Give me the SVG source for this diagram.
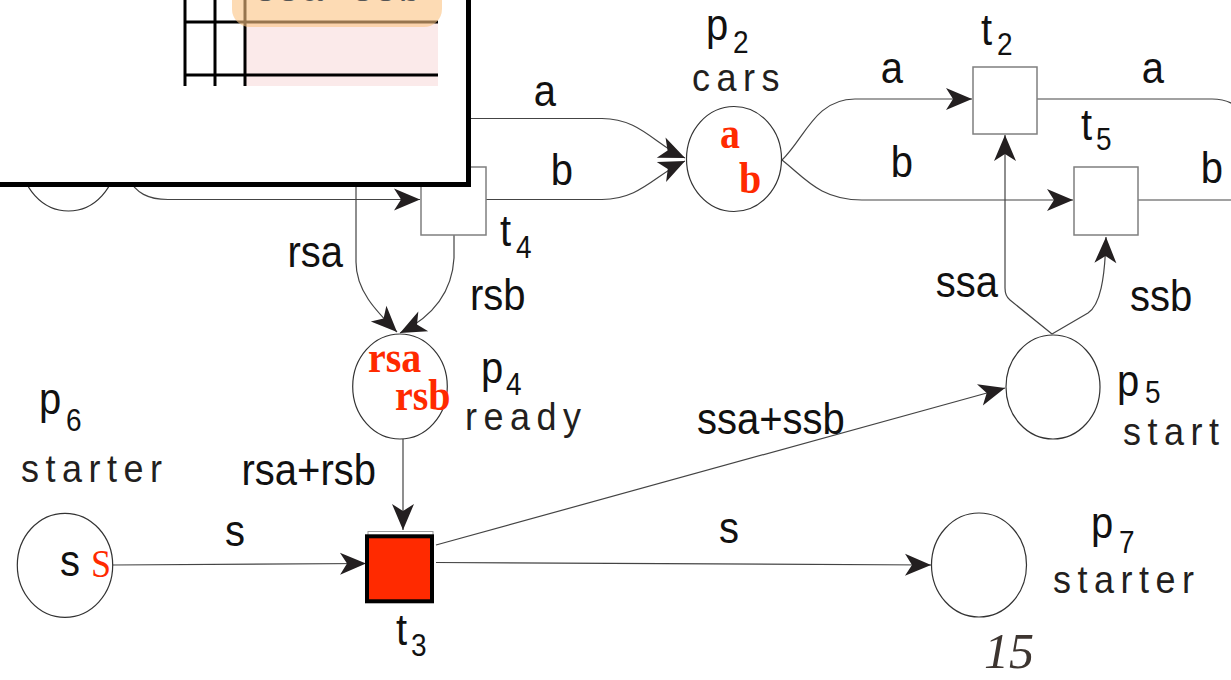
<svg xmlns="http://www.w3.org/2000/svg" width="1231" height="680" viewBox="0 0 1231 680">
<defs>
<style>
.place{fill:#fff;stroke:#333;stroke-width:1.2}
.trans{fill:#fff;stroke:#7f7f7f;stroke-width:1.5}
.arc{fill:none;stroke:#444;stroke-width:1.2}
.lbl{font-family:"Liberation Sans",Arial,sans-serif;font-size:40px;fill:#111}
.nm{font-family:"Liberation Sans",Arial,sans-serif;font-size:36px;fill:#231f20;letter-spacing:6.5px}
.pp{font-family:"Liberation Sans",Arial,sans-serif;font-size:40px;fill:#111}
.sub{font-family:"Liberation Sans",Arial,sans-serif;font-size:28px;fill:#111}
.tok{font-family:"Liberation Serif","Times New Roman",serif;font-weight:bold;font-size:40px;fill:#ff2a00}
</style>
<marker id="ah" viewBox="-27 -12 28 24" refX="0" refY="0" markerWidth="28" markerHeight="24" markerUnits="userSpaceOnUse" orient="auto">
<path d="M0,0 L-26,-11 L-19,0 L-26,11 Z" fill="#231f20"/>
</marker>
<clipPath id="tbl"><rect x="0" y="-40" width="468" height="126"/></clipPath>
</defs>

<g id="connectors">
<path class="arc" d="M128 178 C136 193 148 199.5 168 199.5 L420 199.5" marker-end="url(#ah)"/>
<path class="arc" d="M440 118.5 L602 118.5 C640 118.5 655 145 685 158" marker-end="url(#ah)"/>
<path class="arc" d="M486 199.5 L602 199.5 C640 199.5 655 175 685 161" marker-end="url(#ah)"/>
<path class="arc" d="M782 160 C805 138 815 99 855 99 L972 99" marker-end="url(#ah)"/>
<path class="arc" d="M782 160 C805 178 820 200 862 200 L1073 200" marker-end="url(#ah)"/>
<path class="arc" d="M1037 99 L1212 99 C1222 99 1229 101 1236 106"/>
<path class="arc" d="M1138 200 L1236 200"/>
<path class="arc" d="M1052 334 L1010 300 Q1005 296 1005 288 L1005 135" marker-end="url(#ah)"/>
<path class="arc" d="M1052 334 L1088 313 C1100 305 1105 280 1106 237" marker-end="url(#ah)"/>
<path class="arc" d="M356 150 L356 262 C356 290 375 310 397 332" marker-end="url(#ah)"/>
<path class="arc" d="M454 235 L454 258 C452 295 430 318 400 333" marker-end="url(#ah)"/>
<path class="arc" d="M403 439 L403 530" marker-end="url(#ah)"/>
<path class="arc" d="M112 565 L366 563.5" marker-end="url(#ah)"/>
<path class="arc" d="M436 545 L1005 388" marker-end="url(#ah)"/>
<path class="arc" d="M436 562.5 L931 565" marker-end="url(#ah)"/>
<g transform="scale(1 1.1)">
<text class="lbl" x="545" y="96.4" text-anchor="middle">a</text>
<text class="lbl" x="562" y="168.2" text-anchor="middle">b</text>
<text class="lbl" x="892" y="75.5" text-anchor="middle">a</text>
<text class="lbl" x="1153" y="75.5" text-anchor="middle">a</text>
<text class="lbl" x="902" y="160.9" text-anchor="middle">b</text>
<text class="lbl" x="1212" y="166.4" text-anchor="middle">b</text>
<text class="lbl" x="998" y="270" text-anchor="end">ssa</text>
<text class="lbl" x="1130" y="282.7">ssb</text>
<text class="lbl" x="343" y="242.7" text-anchor="end">rsa</text>
<text class="lbl" x="470" y="281.8">rsb</text>
<text class="lbl" x="376" y="440.9" text-anchor="end">rsa+rsb</text>
<text class="lbl" x="697" y="394.5">ssa+ssb</text>
<text class="lbl" x="235" y="496.4" text-anchor="middle">s</text>
<text class="lbl" x="729" y="493.6" text-anchor="middle">s</text>
</g>
</g>

<g id="p1"><ellipse class="place" cx="68.5" cy="158.5" rx="47.5" ry="52.5"/></g>

<g id="t4">
<rect class="trans" x="421" y="167" width="65" height="68"/>
<g transform="scale(1 1.1)"><text class="pp" x="500" y="223.6">t</text><text class="sub" x="516" y="234.5">4</text></g>
</g>

<g id="p2">
<ellipse class="place" cx="734" cy="159" rx="47.5" ry="52.5"/>
<g transform="scale(1 1.1)">
<text class="tok" x="720" y="134.5">a</text>
<text class="tok" x="739" y="175.5">b</text>
<text class="pp" x="706" y="36.4">p</text><text class="sub" x="733" y="48.5">2</text>
<text class="nm" x="692" y="82.7">cars</text>
</g>
</g>

<g id="t2">
<rect class="trans" x="973" y="67" width="64" height="67"/>
<g transform="scale(1 1.1)"><text class="pp" x="981" y="40.9">t</text><text class="sub" x="997" y="50">2</text></g>
</g>

<g id="t5">
<rect class="trans" x="1074" y="167" width="64" height="68"/>
<g transform="scale(1 1.1)"><text class="pp" x="1081" y="127.3">t</text><text class="sub" x="1096" y="136.4">5</text></g>
</g>

<g id="p4">
<ellipse class="place" cx="400" cy="386.5" rx="47.3" ry="52.5"/>
<g transform="scale(1 1.1)">
<text class="tok" x="368" y="338.2">rsa</text>
<text class="tok" x="395" y="372.7">rsb</text>
<text class="pp" x="481" y="348.2">p</text><text class="sub" x="506" y="359.5">4</text>
<text class="nm" x="465" y="390.9">ready</text>
</g>
</g>

<g id="p5">
<ellipse class="place" cx="1053" cy="387" rx="47" ry="52"/>
<g transform="scale(1 1.1)">
<text class="pp" x="1117" y="360">p</text><text class="sub" x="1145" y="366.4">5</text>
<text class="nm" x="1123" y="404.5">start</text>
</g>
</g>

<g id="p6">
<ellipse class="place" cx="65" cy="565.3" rx="47.7" ry="52"/>
<g transform="scale(1 1.1)">
<text class="lbl" x="60" y="523.6">s</text>
<text x="91" y="524.5" style="font-family:'Liberation Serif','Times New Roman',serif;font-size:36px;fill:#ff2a00">S</text>
<text class="pp" x="39" y="376.4">p</text><text class="sub" x="66" y="391.8">6</text>
<text class="nm" x="21" y="438.2">starter</text>
</g>
</g>

<g id="t3">
<rect x="368" y="531.5" width="65" height="68" fill="none" stroke="#999" stroke-width="1"/>
<rect x="367" y="536.3" width="65" height="65" fill="#ff2a00" stroke="#000" stroke-width="4"/>
<g transform="scale(1 1.1)"><text class="pp" x="396" y="586.4">t</text><text class="sub" x="411" y="596.4">3</text></g>
</g>

<g id="p7">
<ellipse class="place" cx="979" cy="565" rx="47.5" ry="52"/>
<g transform="scale(1 1.1)">
<text class="pp" x="1091" y="489.1">p</text><text class="sub" x="1119" y="503">7</text>
<text class="nm" x="1053" y="539.1">starter</text>
</g>
</g>

<text x="984" y="668" style="font-family:'Liberation Serif','Times New Roman',serif;font-style:italic;font-size:50px;fill:#3d3530">15</text>

<g id="overlay">
<rect x="-10" y="-10" width="478.5" height="194.5" fill="#fff" stroke="#000" stroke-width="5"/>
<g clip-path="url(#tbl)">
<rect x="245" y="22" width="193" height="70" fill="#fbeaea"/>
<g stroke="#000" stroke-width="3">
<line x1="185" y1="-5" x2="185" y2="90"/>
<line x1="215" y1="-5" x2="215" y2="90"/>
<line x1="245" y1="-5" x2="245" y2="90"/>
<line x1="184" y1="22" x2="438" y2="22"/>
<line x1="184" y1="75" x2="438" y2="75"/>
</g>
<rect x="232" y="-30" width="210" height="57" rx="18" fill="#fcc382" opacity="0.6"/>
<text x="340" y="0.5" text-anchor="middle" style="font-family:'Liberation Sans',Arial,sans-serif;font-size:38px;fill:#555;letter-spacing:4px">ssa+ssb</text>
</g>
</g>
</svg>
